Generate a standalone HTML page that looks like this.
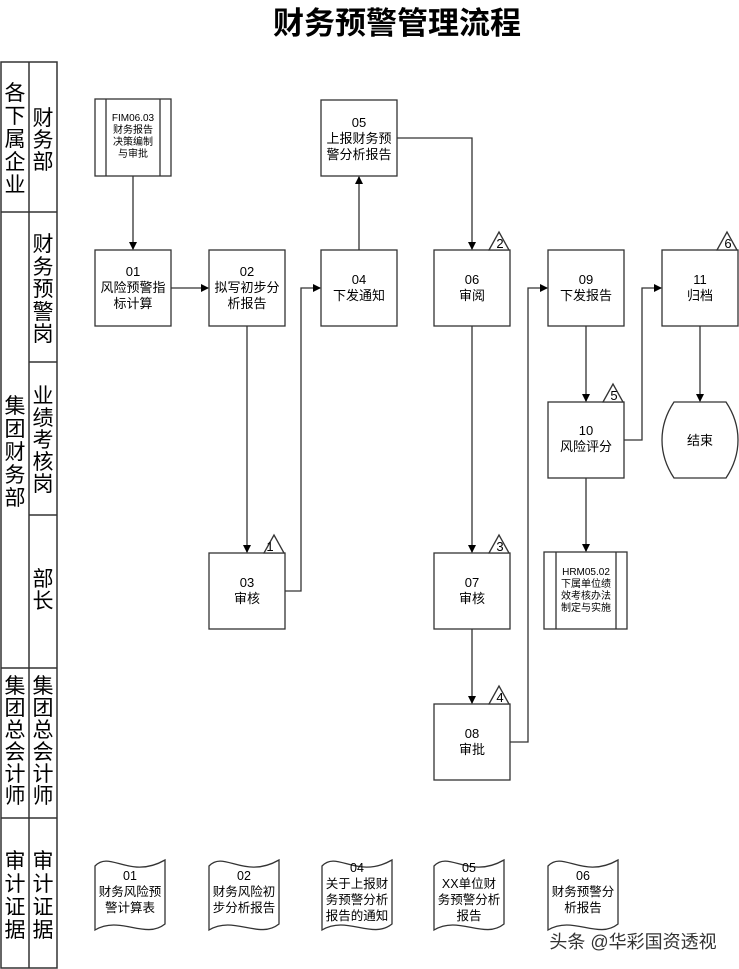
<!DOCTYPE html>
<html><head><meta charset="utf-8"><style>
html,body{margin:0;padding:0;background:#fff;}
svg{display:block;font-family:"Liberation Sans","Noto Sans CJK SC",sans-serif;}
</style></head><body>
<svg width="739" height="969" viewBox="0 0 739 969" xmlns="http://www.w3.org/2000/svg">
<defs><marker id="a" markerWidth="8" markerHeight="8" refX="7" refY="4" orient="auto" markerUnits="userSpaceOnUse"><path d="M0,0 L8,4 L0,8 z" fill="#000"/></marker></defs>
<text x="397" y="34" font-size="31" font-weight="bold" text-anchor="middle">财务预警管理流程</text>
<g stroke="#333" stroke-width="1.5" fill="none">
<rect x="1" y="62" width="56" height="906"/>
<line x1="29" y1="62" x2="29" y2="968"/>
<line x1="1" y1="212" x2="57" y2="212"/>
<line x1="29" y1="362" x2="57" y2="362"/>
<line x1="29" y1="515" x2="57" y2="515"/>
<line x1="1" y1="668" x2="57" y2="668"/>
<line x1="1" y1="818" x2="57" y2="818"/>
</g>
<g font-size="21" text-anchor="middle" fill="#000">
<text x="15" y="100">各</text><text x="15" y="123">下</text><text x="15" y="146">属</text><text x="15" y="169">企</text><text x="15" y="192">业</text>
<text x="43" y="125">财</text><text x="43" y="147">务</text><text x="43" y="169">部</text>
<text x="43" y="251">财</text><text x="43" y="274">务</text><text x="43" y="296">预</text><text x="43" y="319">警</text><text x="43" y="341">岗</text>
<text x="15" y="413">集</text><text x="15" y="436">团</text><text x="15" y="459">财</text><text x="15" y="482">务</text><text x="15" y="505">部</text>
<text x="43" y="403">业</text><text x="43" y="425">绩</text><text x="43" y="447">考</text><text x="43" y="469">核</text><text x="43" y="491">岗</text>
<text x="43" y="586">部</text><text x="43" y="608">长</text>
<text x="15" y="693">集</text><text x="15" y="715">团</text><text x="15" y="737">总</text><text x="15" y="759">会</text><text x="15" y="781">计</text><text x="15" y="803">师</text>
<text x="43" y="693">集</text><text x="43" y="715">团</text><text x="43" y="737">总</text><text x="43" y="759">会</text><text x="43" y="781">计</text><text x="43" y="803">师</text>
<text x="15" y="868">审</text><text x="15" y="891">计</text><text x="15" y="914">证</text><text x="15" y="937">据</text>
<text x="43" y="868">审</text><text x="43" y="891">计</text><text x="43" y="914">证</text><text x="43" y="937">据</text>
</g>
<g stroke="#333" stroke-width="1.3" fill="#fff">
<rect x="95" y="99" width="76" height="77"/><line x1="106" y1="99" x2="106" y2="176"/><line x1="160" y1="99" x2="160" y2="176"/>
<rect x="321" y="100" width="76" height="76"/>
<rect x="95" y="250" width="76" height="76"/>
<rect x="209" y="250" width="76" height="76"/>
<rect x="321" y="250" width="76" height="76"/>
<rect x="434" y="250" width="76" height="76"/>
<rect x="548" y="250" width="76" height="76"/>
<rect x="662" y="250" width="76" height="76"/>
<rect x="548" y="402" width="76" height="76"/>
<path d="M674,402 L726,402 Q738,420 738,440 Q738,460 726,478 L674,478 Q662,460 662,440 Q662,420 674,402 Z"/>
<rect x="209" y="553" width="76" height="76"/>
<rect x="434" y="553" width="76" height="76"/>
<rect x="434" y="704" width="76" height="76"/>
<rect x="544" y="552" width="83" height="77"/><line x1="556" y1="552" x2="556" y2="629"/><line x1="616" y1="552" x2="616" y2="629"/>
<path d="M264,553 L274,535 L284,553 Z"/>
<path d="M489,250 L499,232 L509,250 Z"/>
<path d="M489,553 L499,535 L509,553 Z"/>
<path d="M489,704 L499,686 L509,704 Z"/>
<path d="M603,402 L613,384 L623,402 Z"/>
<path d="M717,250 L727,232 L737,250 Z"/>
</g>
<g font-size="13" text-anchor="middle" fill="#000">
<text x="270" y="551" font-size="13">1</text>
<text x="500" y="248">2</text><text x="500" y="551">3</text><text x="500" y="702">4</text><text x="614" y="400">5</text><text x="728" y="248">6</text>
<g font-size="10"><text x="133" y="121">FIM06.03</text><text x="133" y="133">财务报告</text><text x="133" y="145">决策编制</text><text x="133" y="157">与审批</text>
<text x="586" y="575">HRM05.02</text><text x="586" y="587">下属单位绩</text><text x="586" y="599">效考核办法</text><text x="586" y="611">制定与实施</text></g>
<text x="359" y="127">05</text><text x="359" y="143">上报财务预</text><text x="359" y="159">警分析报告</text>
<text x="133" y="276">01</text><text x="133" y="292">风险预警指</text><text x="133" y="308">标计算</text>
<text x="247" y="276">02</text><text x="247" y="292">拟写初步分</text><text x="247" y="308">析报告</text>
<text x="359" y="284">04</text><text x="359" y="300">下发通知</text>
<text x="472" y="284">06</text><text x="472" y="300">审阅</text>
<text x="586" y="284">09</text><text x="586" y="300">下发报告</text>
<text x="700" y="284">11</text><text x="700" y="300">归档</text>
<text x="586" y="435">10</text><text x="586" y="451">风险评分</text>
<text x="700" y="445">结束</text>
<text x="247" y="587">03</text><text x="247" y="603">审核</text>
<text x="472" y="587">07</text><text x="472" y="603">审核</text>
<text x="472" y="738">08</text><text x="472" y="754">审批</text>
</g>
<g stroke="#333" stroke-width="1.3" fill="none" marker-end="url(#a)">
<path d="M133,176 V249"/>
<path d="M171,288 H208"/>
<path d="M247,326 V552"/>
<path d="M285,591 H301 V288 H320"/>
<path d="M359,250 V177"/>
<path d="M397,138 H472 V249"/>
<path d="M472,326 V552"/>
<path d="M472,629 V703"/>
<path d="M510,742 H528 V288 H547"/>
<path d="M586,326 V401"/>
<path d="M624,440 H642 V288 H661"/>
<path d="M700,326 V401"/>
<path d="M586,478 V551"/>
</g>
<g stroke="#333" stroke-width="1.3" fill="#fff">
<path d="M95,866 C110,850 130,880 165,860 V924 C145,940 120,915 95,930 Z"/>
<path d="M209,866 C224,850 244,880 279,860 V924 C259,940 234,915 209,930 Z"/>
<path d="M322,866 C337,850 357,880 392,860 V924 C372,940 347,915 322,930 Z"/>
<path d="M434,866 C449,850 469,880 504,860 V924 C484,940 459,915 434,930 Z"/>
<path d="M548,866 C563,850 583,880 618,860 V924 C598,940 573,915 548,930 Z"/>
</g>
<g font-size="12.5" text-anchor="middle" fill="#000">
<text x="130" y="880">01</text><text x="130" y="896">财务风险预</text><text x="130" y="912">警计算表</text>
<text x="244" y="880">02</text><text x="244" y="896">财务风险初</text><text x="244" y="912">步分析报告</text>
<text x="357" y="872">04</text><text x="357" y="888">关于上报财</text><text x="357" y="904">务预警分析</text><text x="357" y="920">报告的通知</text>
<text x="469" y="872">05</text><text x="469" y="888">XX单位财</text><text x="469" y="904">务预警分析</text><text x="469" y="920">报告</text>
<text x="583" y="880">06</text><text x="583" y="896">财务预警分</text><text x="583" y="912">析报告</text>
</g>
<text x="633" y="948" font-size="18" text-anchor="middle" fill="#333">头条 @华彩国资透视</text>
</svg>
</body></html>
